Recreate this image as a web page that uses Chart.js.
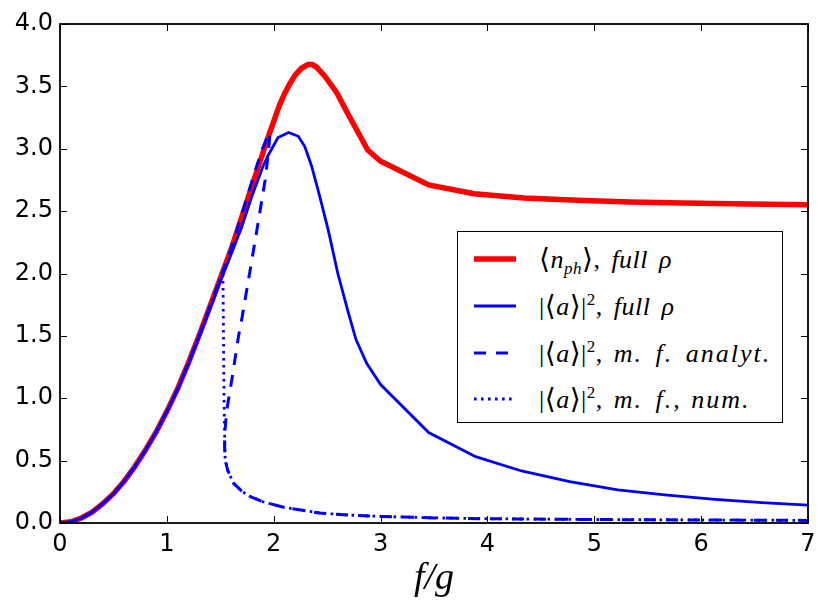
<!DOCTYPE html>
<html>
<head>
<meta charset="utf-8">
<title>photon number vs drive</title>
<script src="https://cdn.jsdelivr.net/npm/chart.js@4.4.0/dist/chart.umd.min.js"></script>
<style>
  html, body { margin: 0; padding: 0; background: #fff; }
  #wrap { position: relative; width: 831px; height: 612px; }
  #legend {
    position: absolute; left: 457px; top: 231px; width: 324px; height: 190px;
    border: 1.5px solid #000; background: #fff;
    font-family: "Liberation Serif", "DejaVu Serif", serif; font-size: 26px; font-style: italic;
    letter-spacing: 0.5px; word-spacing: 4px; color: #000;
  }
  #legend .row { position: absolute; left: 0; height: 40px; width: 100%; }
  #legend svg { position: absolute; left: 16px; top: 0; }
  #legend .txt { position: absolute; left: 81px; top: 0; height: 40px; line-height: 40px; white-space: nowrap; }
  #legend .u { font-style: normal; }
  #legend .br { font-style: normal; font-size: 28px; }
  #legend .mf { letter-spacing: 2px; }
  #legend sub { font-size: 17px; vertical-align: -6px; line-height: 0; }
  #legend sup { font-size: 17px; vertical-align: 10px; line-height: 0; font-style: normal; }
</style>
</head>
<body>
<div id="wrap">
  <canvas id="chart" width="831" height="612"></canvas>
  <div id="legend"></div>
</div>
<script>
// tick labels
const xTicks = [0, 1, 2, 3, 4, 5, 6, 7];
const yTicks = [0, 0.5, 1, 1.5, 2, 2.5, 3, 3.5, 4];

// <n_ph>, full rho
const nphX = [0, 0.1, 0.2, 0.3, 0.4, 0.5, 0.6, 0.7, 0.8, 0.9, 1.0, 1.1, 1.2, 1.3, 1.4, 1.5, 1.6, 1.7, 1.8, 1.9, 1.95,
              2.0, 2.05, 2.1, 2.15, 2.2, 2.26, 2.32, 2.36, 2.4, 2.48, 2.59, 2.7, 2.79, 2.88, 3.0, 3.45, 3.875,
              4.34, 4.84, 5.33, 5.83, 6.45, 7.0];
const nphY = [0, 0.01, 0.04, 0.087, 0.155, 0.235, 0.335, 0.452, 0.585, 0.73, 0.895, 1.075, 1.28, 1.5, 1.73, 1.96, 2.19, 2.45, 2.71, 2.97, 3.1,
              3.22, 3.34, 3.44, 3.52, 3.59, 3.645, 3.675, 3.675, 3.655, 3.58, 3.45, 3.27, 3.13, 2.99, 2.9, 2.71, 2.64,
              2.606, 2.587, 2.574, 2.566, 2.558, 2.552];

// |<a>|^2, full rho
const fullX = [0, 0.1, 0.2, 0.3, 0.4, 0.5, 0.6, 0.7, 0.8, 0.9, 1.0, 1.1, 1.2, 1.3, 1.4, 1.5, 1.6, 1.7, 1.8, 1.9, 1.95,
               2.04, 2.14, 2.23, 2.29, 2.355, 2.43, 2.51, 2.6, 2.7, 2.77, 2.87, 3.0, 3.45, 3.89, 4.32, 4.77,
               5.22, 5.66, 6.13, 6.57, 7.0];
const fullY = [0, 0.01, 0.04, 0.087, 0.155, 0.235, 0.335, 0.452, 0.585, 0.73, 0.895, 1.07, 1.27, 1.49, 1.71, 1.94, 2.15, 2.37, 2.63, 2.86, 2.95,
               3.09, 3.13, 3.1, 3.02, 2.86, 2.62, 2.35, 2.0, 1.68, 1.47, 1.28, 1.11, 0.725, 0.532, 0.417, 0.331,
               0.265, 0.225, 0.19, 0.163, 0.144];

// |<a>|^2, mean field analytic (all three branches)
const mfaX = [0, 0.1, 0.2, 0.3, 0.4, 0.5, 0.6, 0.7, 0.8, 0.9, 1.0, 1.1, 1.2, 1.3, 1.4, 1.5, 1.6, 1.7, 1.8, 1.889, 1.94, 1.966,
              1.95, 1.92, 1.845, 1.77, 1.7, 1.67, 1.608, 1.561, 1.545, 1.54, 1.545, 1.57, 1.623, 1.7, 1.779, 1.9,
              2.1, 2.43, 2.7, 3.0, 3.5, 4.0, 5.0, 6.0, 7.0];
const mfaY = [0, 0.01, 0.04, 0.087, 0.155, 0.235, 0.335, 0.452, 0.585, 0.73, 0.895, 1.075, 1.28, 1.5, 1.73, 1.96, 2.2, 2.47, 2.75, 2.99, 3.09, 3.13,
              2.97, 2.75, 2.36, 1.98, 1.63, 1.495, 1.148, 0.907, 0.748, 0.62, 0.508, 0.42, 0.32, 0.255, 0.213, 0.17,
              0.125, 0.08, 0.064, 0.053, 0.041, 0.034, 0.028, 0.024, 0.021];

// |<a>|^2, mean field numeric (jumps down)
const mfnX = [0, 0.1, 0.2, 0.3, 0.4, 0.5, 0.6, 0.7, 0.8, 0.9, 1.0, 1.1, 1.2, 1.3, 1.4, 1.5, 1.525,
              1.53, 1.535, 1.54, 1.545, 1.57, 1.623, 1.7, 1.779, 1.9, 2.1, 2.43, 2.7, 3.0, 3.5, 4.0, 5.0, 6.0, 7.0];
const mfnY = [0, 0.01, 0.04, 0.087, 0.155, 0.235, 0.335, 0.452, 0.585, 0.73, 0.895, 1.075, 1.28, 1.5, 1.73, 1.96, 1.99,
              1.5, 1.0, 0.75, 0.508, 0.42, 0.32, 0.255, 0.213, 0.17, 0.125, 0.08, 0.064, 0.053, 0.041, 0.034, 0.028, 0.024, 0.021];

function toPoints(xs, ys) {
    return xs.map((x, i) => ({ x: x, y: ys[i] }));
}

// 범례 항목
const aSq = '<span class="u">|</span><span class="br">⟨</span>a<span class="br">⟩</span><span class="u">|</span><sup>2</sup><span class="u">, </span>';
const legendItems = [
    { html: '<span class="br">⟨</span>n<sub>ph</sub><span class="br">⟩</span><span class="u">, </span>full ρ', color: '#ff0000', width: 5.5, dash: '' },
    { html: aSq + 'full ρ', color: '#0000ff', width: 2.8, dash: '' },
    { html: aSq + '<span class="mf">m. f. analyt.</span>', color: '#0000ff', width: 3, dash: '12 10' },
    { html: aSq + '<span class="mf">m. f.</span><span class="u">, </span><span class="mf">num.</span>', color: '#0000ff', width: 2.8, dash: '2.6 4.4' }
];
const legendRowCenters = [26.7, 74, 120.7, 166.7];

function buildLegend() {
    const box = document.getElementById('legend');
    legendItems.forEach((item, i) => {
        const row = document.createElement('div');
        row.className = 'row';
        row.style.top = (legendRowCenters[i] - 20) + 'px';
        row.innerHTML =
            '<svg width="42" height="40"><line x1="0" y1="20" x2="42" y2="20" stroke="' + item.color +
            '" stroke-width="' + item.width + '"' + (item.dash ? ' stroke-dasharray="' + item.dash + '"' : '') +
            '/></svg><div class="txt">' + item.html + '</div>';
        box.appendChild(row);
    });
}

// 안쪽 눈금 + 테두리
const frameTicks = {
    id: 'frameTicks',
    afterDraw(chart) {
        const { ctx, chartArea: a, scales } = chart;
        const len = 7;
        ctx.save();
        ctx.strokeStyle = '#000';
        ctx.lineWidth = 1;
        ctx.beginPath();
        scales.x.ticks.forEach(t => {
            const px = Math.round(scales.x.getPixelForValue(t.value)) + 0.5;
            ctx.moveTo(px, a.bottom); ctx.lineTo(px, a.bottom - len);
            ctx.moveTo(px, a.top); ctx.lineTo(px, a.top + len);
        });
        scales.y.ticks.forEach(t => {
            const py = Math.round(scales.y.getPixelForValue(t.value)) + 0.5;
            ctx.moveTo(a.left, py); ctx.lineTo(a.left + len, py);
            ctx.moveTo(a.right, py); ctx.lineTo(a.right - len, py);
        });
        ctx.stroke();
        ctx.lineWidth = 1.8;
        ctx.strokeRect(a.left, a.top, a.right - a.left, a.bottom - a.top);
        ctx.restore();
    }
};

const tickFont = { family: '"DejaVu Sans", sans-serif', size: 24 };

new Chart(document.getElementById('chart'), {
    type: 'scatter',
    data: {
        datasets: [
            {
                label: '⟨n_ph⟩, full ρ',
                data: toPoints(nphX, nphY),
                showLine: true, borderColor: '#ff0000', borderWidth: 5.5,
                pointRadius: 0, order: 4
            },
            {
                label: '|⟨a⟩|², full ρ',
                data: toPoints(fullX, fullY),
                showLine: true, borderColor: '#0000ff', borderWidth: 2.8,
                pointRadius: 0, order: 3
            },
            {
                label: '|⟨a⟩|², m. f. analyt.',
                data: toPoints(mfaX, mfaY),
                showLine: true, borderColor: '#0000ff', borderWidth: 3,
                borderDash: [12, 10], pointRadius: 0, order: 2
            },
            {
                label: '|⟨a⟩|², m. f., num.',
                data: toPoints(mfnX, mfnY),
                showLine: true, borderColor: '#0000ff', borderWidth: 2.8,
                borderDash: [2.6, 4.4], pointRadius: 0, order: 1
            }
        ]
    },
    options: {
        responsive: false,
        animation: false,
        devicePixelRatio: 1,
        layout: { padding: { top: 24, right: 23, left: 0, bottom: 0 } },
        plugins: {
            legend: { display: false },
            tooltip: { enabled: false }
        },
        scales: {
            x: {
                type: 'linear', min: 0, max: 7,
                afterBuildTicks: s => { s.ticks = xTicks.map(v => ({ value: v })); },
                afterFit: s => { s.height = 89; },
                grid: { display: false, drawTicks: false },
                border: { display: false },
                ticks: {
                    color: '#000', font: tickFont, padding: 7, maxRotation: 0,
                    callback: v => String(v)
                },
                title: {
                    display: true, text: 'f/g', color: '#000',
                    font: { family: '"Liberation Serif", serif', size: 38, style: 'italic' },
                    padding: { top: 0, bottom: 10 }
                }
            },
            y: {
                type: 'linear', min: 0, max: 4,
                afterBuildTicks: s => { s.ticks = yTicks.map(v => ({ value: v })); },
                afterFit: s => { s.width = 60; },
                grid: { display: false, drawTicks: false },
                border: { display: false },
                ticks: {
                    color: '#000', font: tickFont, padding: 7,
                    callback: v => v.toFixed(1)
                }
            }
        }
    },
    plugins: [frameTicks]
});

buildLegend();
</script>
</body>
</html>
